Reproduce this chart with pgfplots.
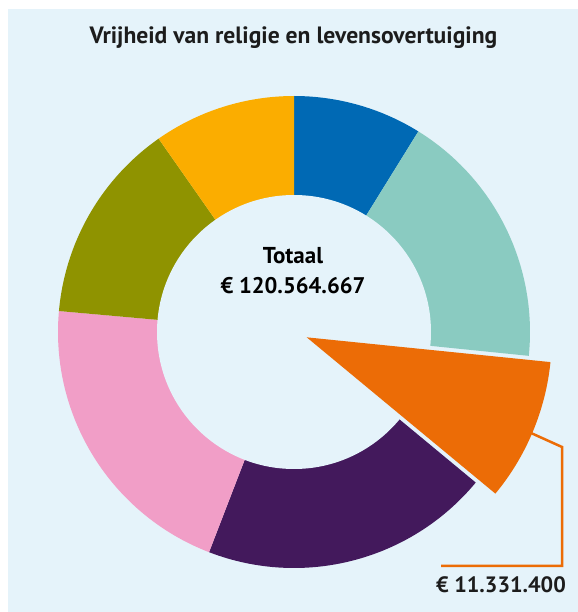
\documentclass[border=0pt]{standalone}
\usepackage{fontspec}
\setmainfont{PT Sans}
\usepackage{pgfplots}
\usepackage{pgfplotstable}
\pgfplotsset{compat=1.18}

\definecolor{bgblue}{RGB}{229,243,250}
\definecolor{txt}{RGB}{28,28,28}
\definecolor{cBlue}{RGB}{0,105,180}
\definecolor{cTeal}{RGB}{138,203,193}
\definecolor{cOrange}{RGB}{236,108,6}
\definecolor{cPurple}{RGB}{67,25,92}
\definecolor{cPink}{RGB}{241,158,199}
\definecolor{cOlive}{RGB}{143,147,0}
\definecolor{cYellow}{RGB}{251,173,0}

% amounts in million euro, clockwise from the top
\pgfplotstableread[col sep=comma]{
name,value,color,explode
a,10.650,cBlue,0
b,21.434,cTeal,0
c,11.3314,cOrange,1
d,23.932,cPurple,0
e,24.783,cPink,0
f,16.712,cOlive,0
g,11.722,cYellow,0
}\donut

\begin{document}
\begin{tikzpicture}
\begin{axis}[
  x=0.5pt, y=0.5pt,
  xmin=0, xmax=578, ymin=0, ymax=612,
  scale only axis, hide axis, clip=false,
]
% page and panel
\fill[white] (axis cs:0,0) rectangle (axis cs:578,612);
\fill[bgblue] (axis cs:8,0) rectangle (axis cs:578,603);

% total of the series
\pgfmathsetmacro{\total}{0}
\pgfplotsforeachungrouped \i in {0,...,6}{%
  \pgfplotstablegetelem{\i}{value}\of\donut
  \pgfmathsetmacro{\total}{\total+\pgfplotsretval}%
}
% plain slices
\pgfmathsetmacro{\cum}{0}
\pgfplotsforeachungrouped \i in {0,...,6}{%
  \pgfplotstablegetelem{\i}{value}\of\donut
  \let\val\pgfplotsretval
  \pgfplotstablegetelem{\i}{color}\of\donut
  \let\col\pgfplotsretval
  \pgfplotstablegetelem{\i}{explode}\of\donut
  \let\ex\pgfplotsretval
  \pgfmathsetmacro{\aone}{90-360*(\cum/\total)}%
  \pgfmathsetmacro{\cum}{\cum+\val}%
  \pgfmathsetmacro{\atwo}{90-360*(\cum/\total)}%
  \ifnum\ex=0
    \edef\cmd{\noexpand\fill[\col] (axis cs:294,280) -- ++(\aone:118pt)
      arc[start angle=\aone, end angle=\atwo, radius=118pt] -- cycle;}%
    \cmd
  \else
    \global\let\exone\aone \global\let\extwo\atwo \global\let\excol\col
  \fi
}
% hole
\fill[bgblue] (axis cs:294,280) circle[radius=68.5pt];
% exploded slice
\pgfmathsetmacro{\exmid}{(\exone+\extwo)/2}
\edef\cmd{\noexpand\fill[\excol] (axis cs:294,280) ++(\exmid:6.9pt) -- ++(\exone:122.5pt)
  arc[start angle=\exone, end angle=\extwo, radius=122.5pt] -- cycle;}
\cmd

% leader line
\draw[cOrange, line width=1.25pt] (axis cs:531,179) -- (axis cs:562,165)
  -- (axis cs:562,46) -- (axis cs:441,46);

% texts
\node[anchor=base, text=txt, font=\fontsize{11.8}{13}\selectfont\bfseries]
  at (axis cs:293.5,568.7) {Vrijheid van religie en levensovertuiging};
\node[anchor=base, text=black, font=\fontsize{11.5}{13}\selectfont\bfseries]
  at (axis cs:293,348.7) {Totaal};
\node[anchor=base, text=black, font=\fontsize{11.3}{13}\selectfont\bfseries]
  at (axis cs:293,318.7) {€ 120.564.667};
\node[anchor=base, text=txt, font=\fontsize{11.1}{13}\selectfont\bfseries]
  at (axis cs:501,19) {€ 11.331.400};
\end{axis}
\end{tikzpicture}
\end{document}
